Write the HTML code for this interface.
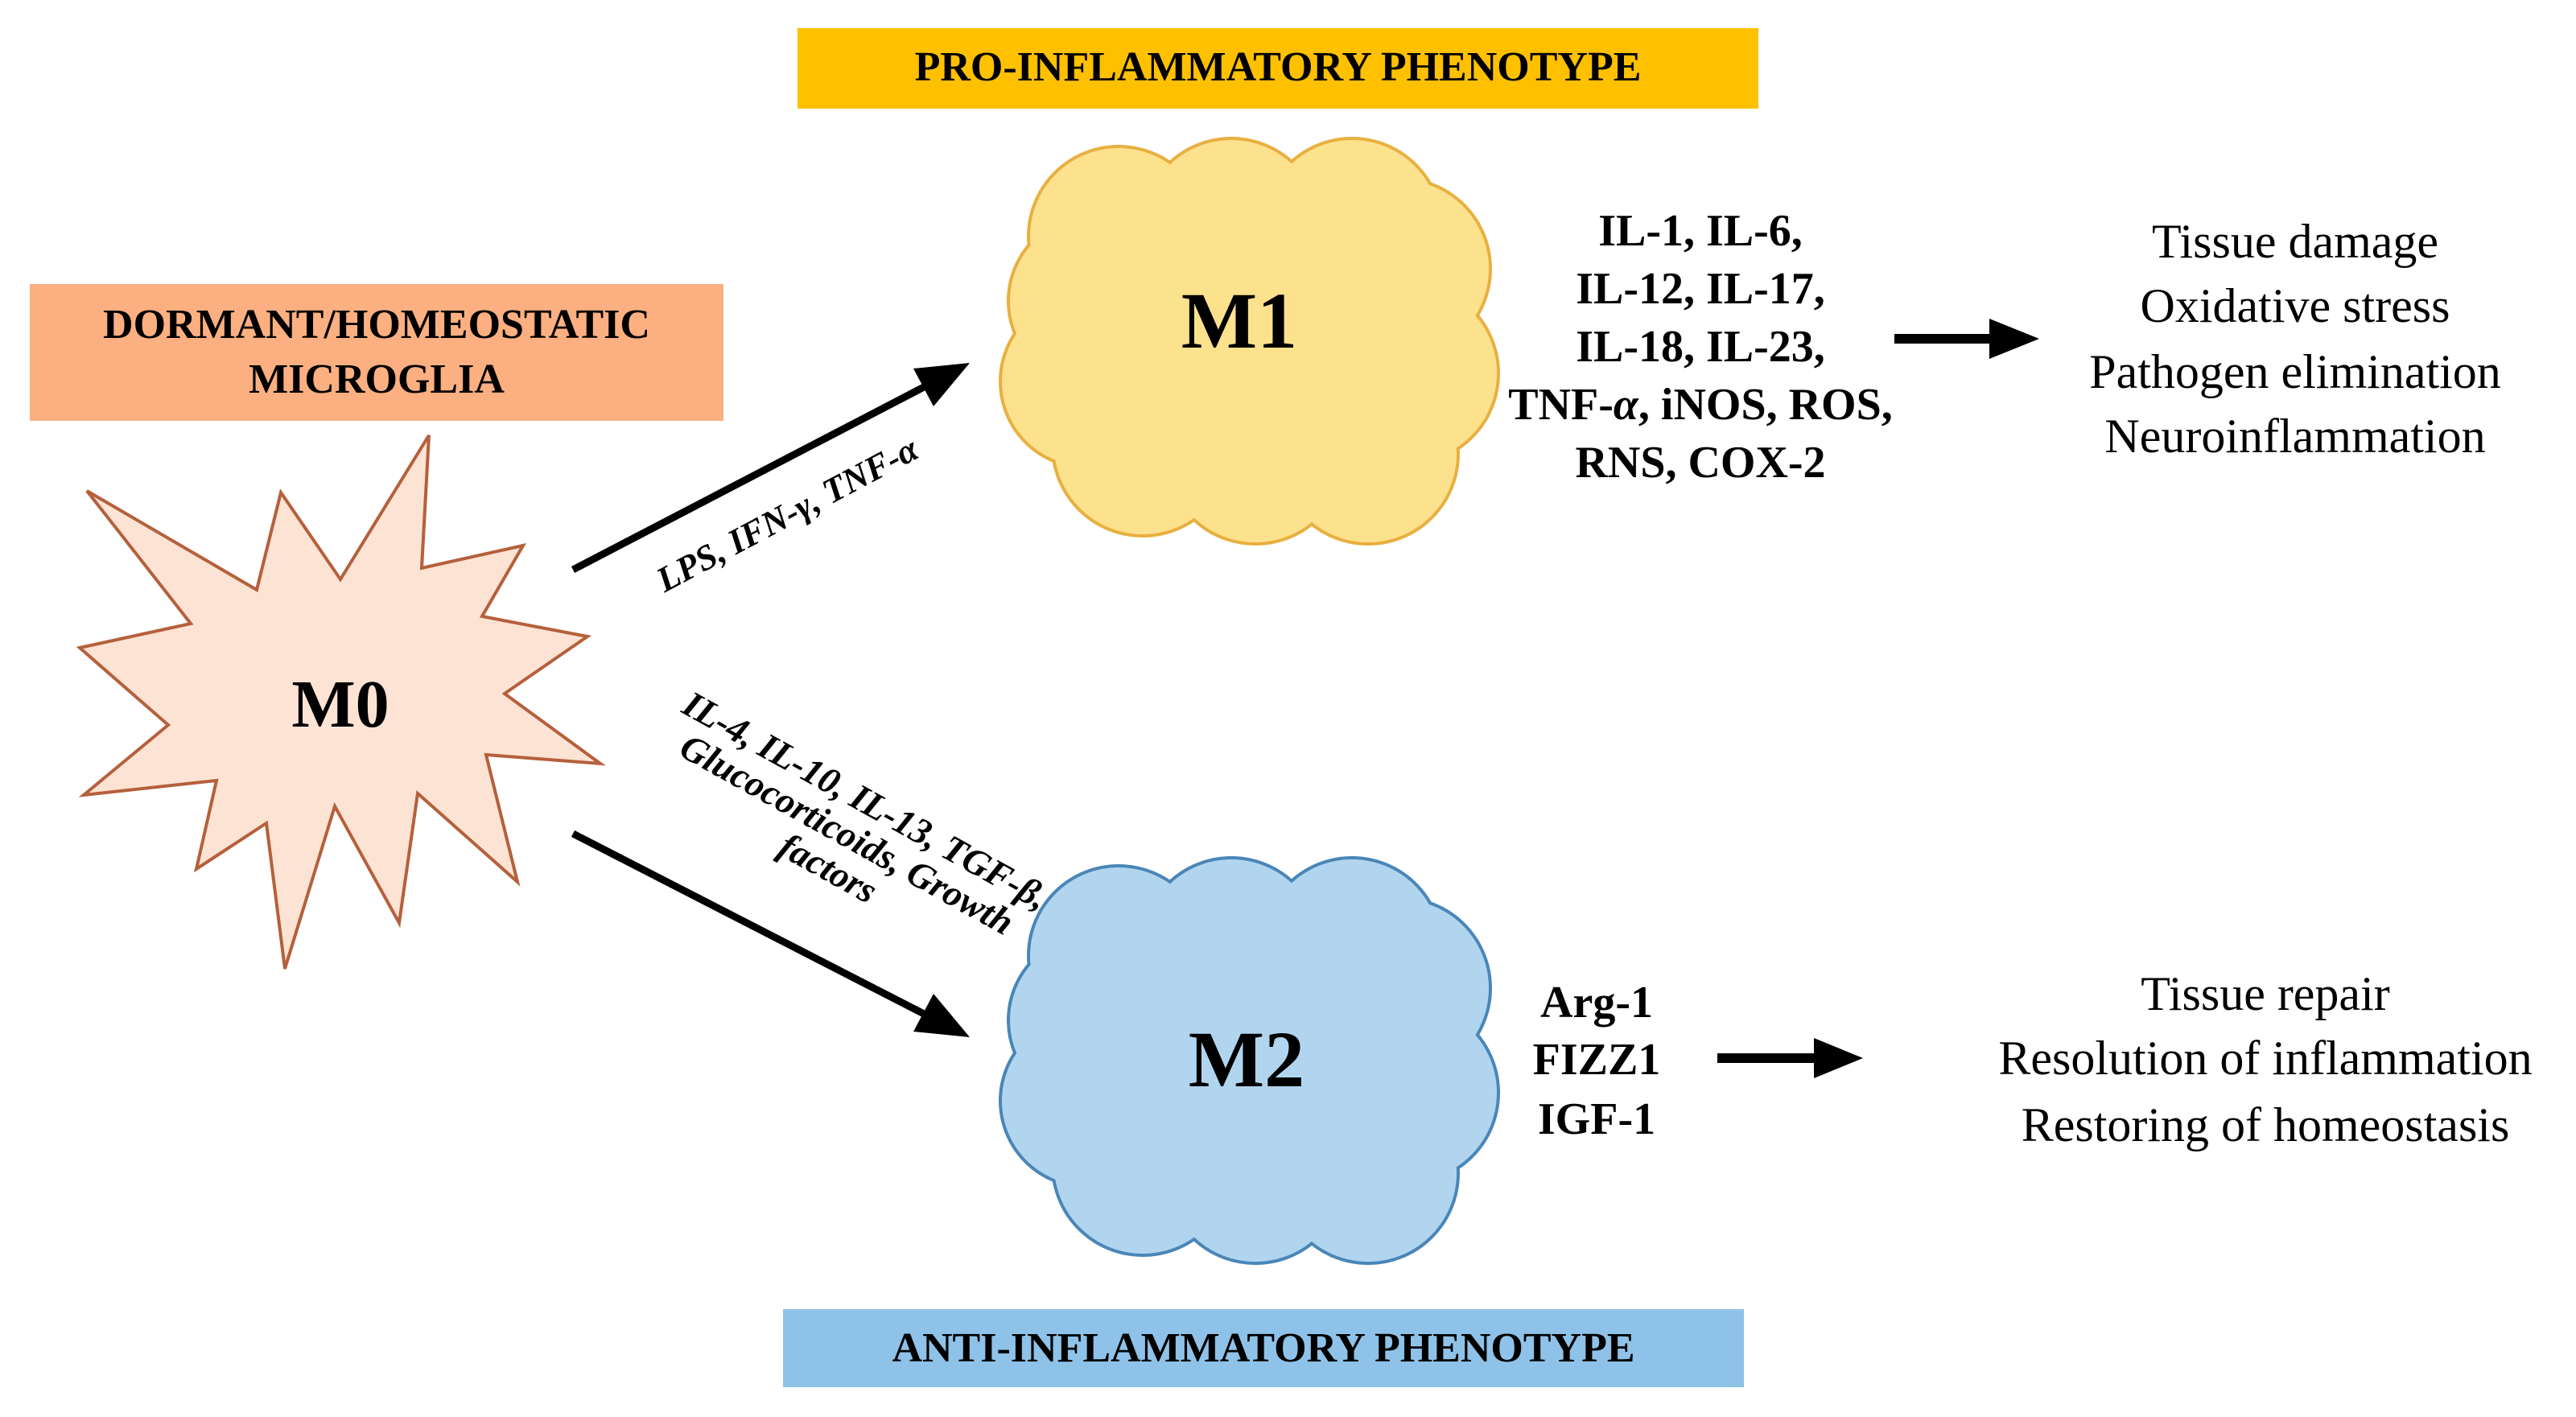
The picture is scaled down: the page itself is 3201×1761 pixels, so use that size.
<!DOCTYPE html>
<html><head><meta charset="utf-8"><style>
body{margin:0;background:#fff;}
svg{display:block;}
svg text{font-family:"Liberation Serif","DejaVu Serif",serif;}
</style></head><body>
<svg width="3201" height="1761" viewBox="0 0 3201 1761" xmlns="http://www.w3.org/2000/svg" font-family="'Liberation Serif','DejaVu Serif',serif">
<defs>
<g id="cloud">
<circle cx="-160" cy="-130" r="110"/>
<circle cx="-20" cy="-140" r="110"/>
<circle cx="130" cy="-140" r="110"/>
<circle cx="190" cy="-90" r="110"/>
<circle cx="200" cy="40" r="110"/>
<circle cx="150" cy="140" r="110"/>
<circle cx="10" cy="140" r="110"/>
<circle cx="-130" cy="130" r="110"/>
<circle cx="-200" cy="50" r="105"/>
<circle cx="-190" cy="-50" r="105"/>
<ellipse cx="0" cy="0" rx="220" ry="180"/>
</g>
</defs>
<rect x="991" y="35" width="1194" height="100" fill="#ffc000"/>
<text x="1588" y="100" text-anchor="middle" font-size="52" font-weight="bold">PRO-INFLAMMATORY PHENOTYPE</text>
<rect x="37" y="353" width="862" height="170" fill="#fcaf80"/>
<text x="468" y="420" text-anchor="middle" font-size="52" font-weight="bold">DORMANT/HOMEOSTATIC</text>
<text x="468" y="488" text-anchor="middle" font-size="52" font-weight="bold">MICROGLIA</text>
<rect x="973" y="1627" width="1194" height="97" fill="#8fc2e8"/>
<text x="1570" y="1692" text-anchor="middle" font-size="52" font-weight="bold">ANTI-INFLAMMATORY PHENOTYPE</text>

<polygon points="533,541 524,706 650,678 599,766 730,791 627,862 746,949 604,938 643,1096 519,986 496,1147 416,1002 354,1204 331,1023 244,1080 269,970 104,988 209,901 99,805 237,775 108,610 319,733 349,612 423,720" fill="#fde3d4" stroke="#b5603c" stroke-width="4"/>
<text x="423" y="903" text-anchor="middle" font-size="84" font-weight="bold">M0</text>

<g transform="translate(1550,424)" fill="#fde28e" stroke="#e8b040" stroke-width="8"><use href="#cloud"/></g>
<g transform="translate(1550,424)" fill="#fde28e" stroke="none"><use href="#cloud"/></g>
<text x="1540" y="432" text-anchor="middle" font-size="100" font-weight="bold">M1</text>

<g transform="translate(1550,1318)" fill="#b2d5ef" stroke="#4a86b8" stroke-width="8"><use href="#cloud"/></g>
<g transform="translate(1550,1318)" fill="#b2d5ef" stroke="none"><use href="#cloud"/></g>
<text x="1549" y="1350" text-anchor="middle" font-size="100" font-weight="bold">M2</text>

<line x1="712" y1="708" x2="1150" y2="480" stroke="#000" stroke-width="9"/>
<polygon points="1205,451 1135,458 1160,505" fill="#000"/>
<line x1="712" y1="1036" x2="1150" y2="1261" stroke="#000" stroke-width="9"/>
<polygon points="1205,1289 1135,1282 1160,1235" fill="#000"/>

<text transform="translate(985,652) rotate(-28)" text-anchor="middle" font-size="44" font-weight="bold" font-style="italic">LPS, IFN-γ, TNF-α</text>
<g transform="translate(1048,1045) rotate(29)" font-size="46" font-weight="bold" font-style="italic" text-anchor="middle">
<text x="0" y="-42">IL-4, IL-10, IL-13, TGF-β,</text>
<text x="0" y="6">Glucocorticoids, Growth</text>
<text x="0" y="54">factors</text>
</g>

<g font-size="56" font-weight="bold" text-anchor="middle">
<text x="2113" y="305">IL-1, IL-6,</text>
<text x="2113" y="377">IL-12, IL-17,</text>
<text x="2113" y="449">IL-18, IL-23,</text>
<text x="2113" y="521">TNF-<tspan font-style="italic">α</tspan>, iNOS, ROS,</text>
<text x="2113" y="593">RNS, COX-2</text>
<text x="1984" y="1264">Arg-1</text>
<text x="1984" y="1335">FIZZ1</text>
<text x="1984" y="1409">IGF-1</text>
</g>
<line x1="2354" y1="421" x2="2480" y2="421" stroke="#000" stroke-width="12"/>
<polygon points="2534,421 2472,396 2472,446" fill="#000"/>
<line x1="2134" y1="1315" x2="2262" y2="1315" stroke="#000" stroke-width="12"/>
<polygon points="2315,1315 2254,1290 2254,1340" fill="#000"/>

<g font-size="60" text-anchor="middle">
<text x="2852" y="320">Tissue damage</text>
<text x="2852" y="400">Oxidative stress</text>
<text x="2852" y="482">Pathogen elimination</text>
<text x="2852" y="562">Neuroinflammation</text>
<text x="2815" y="1255">Tissue repair</text>
<text x="2815" y="1335">Resolution of inflammation</text>
<text x="2815" y="1418">Restoring of homeostasis</text>
</g>
</svg>
</body></html>
